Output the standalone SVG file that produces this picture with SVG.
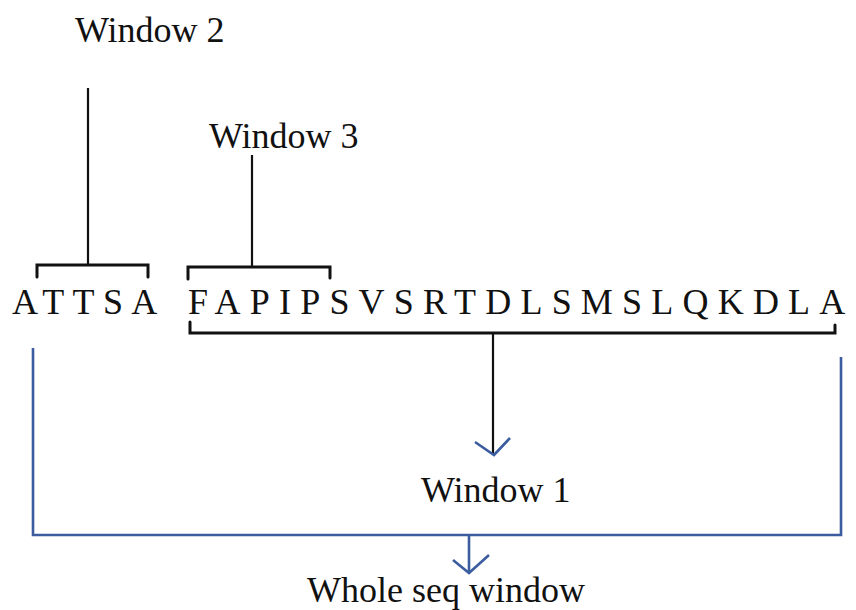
<svg xmlns="http://www.w3.org/2000/svg" width="856" height="610" viewBox="0 0 856 610">
<style>
.lbl{font-family:"Liberation Serif","Times New Roman",serif;font-size:36px;fill:#111}
.seq{font-family:"Liberation Serif","Times New Roman",serif;font-size:36px;fill:#111}
.blk{fill:none;stroke:#111;stroke-width:3;stroke-linejoin:miter;stroke-linecap:round}
.thin{fill:none;stroke:#111;stroke-width:2.2}
.blue{fill:none;stroke:#3B5C9E;stroke-width:2.6}
</style>
<rect width="856" height="610" fill="#fff"/>
<g id="window2"><text class="lbl" x="75" y="42">Window 2</text></g>
<g id="window3"><text class="lbl" x="209" y="148">Window 3</text></g>
<g id="window1"><text class="lbl" x="421" y="502">Window 1</text></g>
<g id="whole"><text class="lbl" x="307" y="602">Whole seq window</text></g>
<g id="seq-left"><text class="seq" x="12" y="314" letter-spacing="8.3">ATTSA</text></g>
<g id="seq-right"><text class="seq" x="188" y="314" letter-spacing="9.2">FAPIPSVSRTDLSMSLQKDLA</text></g>
<g id="connectors">
<polyline class="blk" points="37,277 37,265 148,265 148,277"/>
<line class="thin" x1="88" y1="88" x2="88" y2="265"/>
<polyline class="blk" points="188,279 188,267 330,267 330,278"/>
<line class="thin" x1="252" y1="155" x2="252" y2="267"/>
<polyline class="blk" points="190,322 190,333 835,333 835,325"/>
<line class="thin" x1="493" y1="333" x2="493" y2="455"/>
<polyline class="blue" points="475,442 494,455 510,438"/>
<polyline class="blue" points="33,348 33,535 841,535 841,357"/>
<line class="blue" x1="469" y1="535" x2="469" y2="573"/>
<polyline class="blue" points="453,560 469,573 489,555"/>
</g>
</svg>
